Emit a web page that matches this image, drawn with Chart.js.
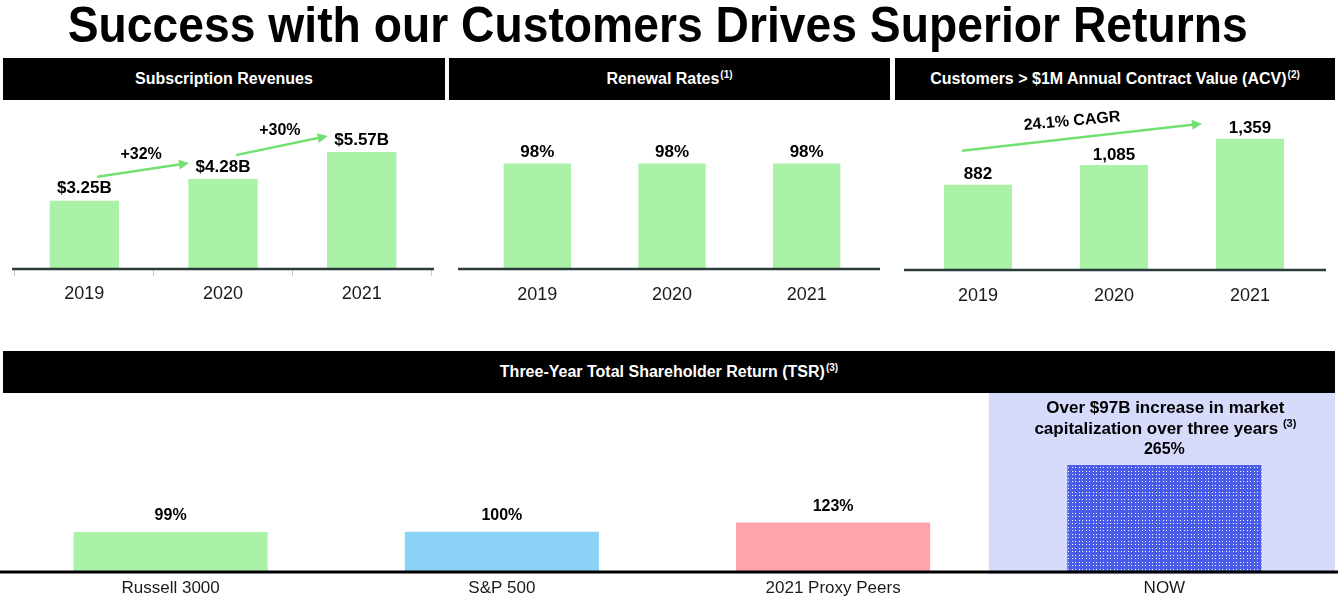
<!DOCTYPE html>
<html>
<head>
<meta charset="utf-8">
<script src="https://cdn.jsdelivr.net/npm/chart.js@4/dist/chart.umd.min.js"></script>
<style>
  body { margin:0; width:1338px; height:601px; background:#fff; position:relative; overflow:hidden;
         font-family:"Liberation Sans", Arial, sans-serif; }
  #title { position:absolute; left:0; top:0; width:1316px; text-align:center; font-weight:bold;
           font-size:50px; line-height:50px; color:#000; white-space:nowrap; }
  #title span { display:inline-block; transform-origin:center; }
  .hdr { position:absolute; background:#000; color:#fff; font-weight:bold; font-size:16px;
         display:flex; align-items:center; justify-content:center; white-space:nowrap; }
  .hdr sup { font-size:10px; vertical-align:6px; line-height:0; margin-left:1px; }
  canvas { position:absolute; }
</style>
</head>
<body>
<div id="title"><span id="titleText">Success with our Customers Drives Superior Returns</span></div>

<div class="hdr" style="left:3px;top:58px;width:442px;height:42px;"><span>Subscription Revenues</span></div>
<div class="hdr" style="left:449px;top:58px;width:441px;height:42px;"><span>Renewal Rates<sup>(1)</sup></span></div>
<div class="hdr" style="left:895px;top:58px;width:440px;height:42px;"><span>Customers &gt; $1M Annual Contract Value (ACV)<sup>(2)</sup></span></div>
<div class="hdr" style="left:3px;top:351px;width:1332px;height:42px;"><span>Three-Year Total Shareholder Return (TSR)<sup>(3)</sup></span></div>

<canvas id="c1" width="440" height="220" style="left:3px;top:100px;"></canvas>
<canvas id="c2" width="440" height="220" style="left:449px;top:100px;"></canvas>
<canvas id="c3" width="440" height="220" style="left:895px;top:100px;"></canvas>
<canvas id="c4" width="1338" height="208" style="left:0px;top:393px;"></canvas>

<script>
// ---------------- data ----------------
const years = ['2019', '2020', '2021'];
const subscriptionRevenue = [3.25, 4.28, 5.57];      // $B
const revenueGrowth = ['+32%', '+30%'];
const renewalRates = [98, 98, 98];                   // %
const millionCustomers = [882, 1085, 1359];
const customersCagr = '24.1% CAGR';
const tsrGroups = ['Russell 3000', 'S&P 500', '2021 Proxy Peers', 'NOW'];
const tsrValues = [99, 100, 123, 265];               // %
const nowNote = ['Over $97B increase in market', 'capitalization over three years'];
const nowNoteRef = '(3)';

// ---------------- styling ----------------
const FONT = '"Liberation Sans", Arial, sans-serif';
const GREEN = '#a9f2a8';
const ARROW = '#72e070';
const AXIS = '#2b3a3a';

// title fit
(function () {
  const s = document.getElementById('titleText');
  const w = s.getBoundingClientRect().width;
  s.style.transform = 'scaleX(' + (1180 / w) + ')';
})();

function drawArrow(ctx, x1, y1, x2, y2, color, lw, head) {
  const a = Math.atan2(y2 - y1, x2 - x1);
  const bx = x2 - head * Math.cos(a), by = y2 - head * Math.sin(a);
  ctx.save();
  ctx.strokeStyle = color; ctx.fillStyle = color; ctx.lineWidth = lw;
  ctx.beginPath(); ctx.moveTo(x1, y1); ctx.lineTo(bx, by); ctx.stroke();
  ctx.beginPath(); ctx.moveTo(x2, y2);
  ctx.lineTo(bx + head * 0.5 * Math.sin(a), by - head * 0.5 * Math.cos(a));
  ctx.lineTo(bx - head * 0.5 * Math.sin(a), by + head * 0.5 * Math.cos(a));
  ctx.closePath(); ctx.fill();
  ctx.restore();
}

function valueLabelPlugin(fmt, size, gap) {
  return {
    id: 'valueLabels',
    afterDatasetsDraw(chart) {
      const ctx = chart.ctx, meta = chart.getDatasetMeta(0), d = chart.data.datasets[0].data;
      ctx.save();
      ctx.font = 'bold ' + size + 'px ' + FONT;
      ctx.fillStyle = '#000'; ctx.textAlign = 'center'; ctx.textBaseline = 'middle';
      meta.data.forEach((bar, i) => ctx.fillText(fmt(d[i]), bar.x, bar.y - gap));
      ctx.restore();
    }
  };
}

function axisLinePlugin(extL, extR, color, width, full) {
  return {
    id: 'axisLine',
    afterDatasetsDraw(chart) {
      const ctx = chart.ctx, a = chart.chartArea;
      ctx.save();
      ctx.strokeStyle = color; ctx.lineWidth = width;
      ctx.beginPath();
      const x0 = full ? 0 : a.left - extL, x1 = full ? chart.width : a.right + extR;
      ctx.moveTo(x0, a.bottom); ctx.lineTo(x1, a.bottom); ctx.stroke();
      ctx.restore();
    }
  };
}

function barChart(id, cfg) {
  return new Chart(document.getElementById(id), {
    type: 'bar',
    data: {
      labels: cfg.labels,
      datasets: [{ data: cfg.values, backgroundColor: cfg.colors, borderWidth: 0,
                   barPercentage: cfg.barPct, categoryPercentage: 1 }]
    },
    options: {
      responsive: false, animation: false, devicePixelRatio: 1,
      layout: { padding: cfg.padding },
      plugins: { legend: { display: false }, tooltip: { enabled: false }, title: { display: false } },
      scales: {
        x: {
          afterFit: s => { s.height = cfg.axisH; },
          border: { display: false },
          grid: cfg.grid,
          ticks: { color: '#1a1a1a', font: { family: FONT, size: cfg.tickSize }, padding: cfg.tickPad,
                   maxRotation: 0, autoSkip: false }
        },
        y: { display: false, min: 0, max: cfg.max }
      }
    },
    plugins: cfg.plugins
  });
}

// ---------- Chart 1: Subscription Revenues ----------
barChart('c1', {
  labels: years, values: subscriptionRevenue, colors: GREEN, barPct: 0.5, max: 7,
  padding: { left: 12, right: 12, top: 22, bottom: 0 }, axisH: 51, tickSize: 18, tickPad: 7,
  grid: { display: true, drawOnChartArea: false, drawTicks: true, tickLength: 7, color: '#c8c8c8', lineWidth: 1 },
  plugins: [
    valueLabelPlugin(v => '$' + v.toFixed(2) + 'B', 17, 12),
    axisLinePlugin(3, 3, AXIS, 2.5, false),
    {
      id: 'growth',
      afterDatasetsDraw(chart) {
        const ctx = chart.ctx, bars = chart.getDatasetMeta(0).data;
        for (let i = 0; i < bars.length - 1; i++) {
          const b0 = bars[i], b1 = bars[i + 1];
          const x1 = b0.x + 13, y1 = b0.y - 24, x2 = b1.x - 34, y2 = b1.y - 16;
          drawArrow(ctx, x1, y1, x2, y2, ARROW, 2.5, 10);
          ctx.save();
          ctx.font = 'bold 16px ' + FONT; ctx.fillStyle = '#000';
          ctx.textAlign = 'center'; ctx.textBaseline = 'middle';
          ctx.fillText(revenueGrowth[i], (x1 + x2) / 2 - 2, (y1 + y2) / 2 - 15);
          ctx.restore();
        }
      }
    }
  ]
});

// ---------- Chart 2: Renewal Rates ----------
barChart('c2', {
  labels: years, values: renewalRates, colors: GREEN, barPct: 0.5, max: 130,
  padding: { left: 21, right: 15, top: 29, bottom: 0 }, axisH: 51, tickSize: 18, tickPad: 15,
  grid: { display: false, drawTicks: false },
  plugins: [
    valueLabelPlugin(v => v + '%', 17, 11),
    axisLinePlugin(12, 6, AXIS, 2.5, false)
  ]
});

// ---------- Chart 3: Customers > $1M ACV ----------
barChart('c3', {
  labels: years, values: millionCustomers, colors: GREEN, barPct: 0.5, max: 1500,
  padding: { left: 15, right: 17, top: 25, bottom: 0 }, axisH: 50, tickSize: 18, tickPad: 15,
  grid: { display: false, drawTicks: false },
  plugins: [
    valueLabelPlugin(v => v.toLocaleString('en-US'), 17, 10),
    axisLinePlugin(6, 8, AXIS, 2.5, false),
    {
      id: 'cagr',
      afterDatasetsDraw(chart) {
        const ctx = chart.ctx, bars = chart.getDatasetMeta(0).data;
        const b0 = bars[0], b2 = bars[bars.length - 1];
        const x1 = b0.x - 16, y1 = b0.y - 34, x2 = b2.x - 48, y2 = b2.y - 15;
        drawArrow(ctx, x1, y1, x2, y2, ARROW, 2.5, 10);
        const ang = Math.atan2(y2 - y1, x2 - x1) * 0.8;
        ctx.save();
        ctx.translate((x1 + x2) / 2 - 10, (y1 + y2) / 2 - 16);
        ctx.rotate(ang);
        ctx.font = 'bold 16px ' + FONT; ctx.fillStyle = '#000';
        ctx.textAlign = 'center'; ctx.textBaseline = 'middle';
        ctx.fillText(customersCagr, 0, 0);
        ctx.restore();
      }
    }
  ]
});

// ---------- Chart 4: Three-Year TSR ----------
const pat = document.createElement('canvas');
pat.width = 7; pat.height = 7;
(function () {
  const p = pat.getContext('2d');
  p.fillStyle = '#4a5de8'; p.fillRect(0, 0, 7, 7);
  p.fillStyle = '#ffffff';
  [[1, 1], [4, 1], [1, 4], [4, 4]].forEach(([x, y]) => p.fillRect(x, y, 1, 1));
})();
const nowPattern = document.getElementById('c4').getContext('2d').createPattern(pat, 'repeat');

barChart('c4', {
  labels: tsrGroups, values: tsrValues, colors: ['#a9f2a8', '#8ad3f7', '#ffa3ad', nowPattern],
  barPct: 0.586, max: 300,
  padding: { left: 5, right: 8, top: 58, bottom: 0 }, axisH: 29, tickSize: 17, tickPad: 6,
  grid: { display: false, drawTicks: false },
  plugins: [
    {
      id: 'nowBox',
      beforeDatasetsDraw(chart) {
        const ctx = chart.ctx, a = chart.chartArea, bars = chart.getDatasetMeta(0).data;
        const last = bars[bars.length - 1];
        const cw = (a.right - a.left) / bars.length;
        ctx.save();
        ctx.fillStyle = '#d6dafb';
        ctx.fillRect(last.x - cw * 0.53, 0, chart.width - 3 - (last.x - cw * 0.53), a.bottom + 2);
        ctx.restore();
      }
    },
    valueLabelPlugin(v => v + '%', 16, 16),
    axisLinePlugin(0, 0, '#000', 3, true),
    {
      id: 'nowNote',
      afterDatasetsDraw(chart) {
        const ctx = chart.ctx, bars = chart.getDatasetMeta(0).data;
        const cx = bars[bars.length - 1].x + 1;
        ctx.save();
        ctx.fillStyle = '#000'; ctx.textBaseline = 'middle';
        ctx.font = 'bold 17px ' + FONT;
        ctx.textAlign = 'center';
        ctx.fillText(nowNote[0], cx, 15);
        const main = nowNote[1] + ' ';
        const wMain = ctx.measureText(main).width;
        ctx.font = 'bold 11px ' + FONT;
        const wRef = ctx.measureText(nowNoteRef).width;
        const x0 = cx - (wMain + wRef) / 2;
        ctx.textAlign = 'left';
        ctx.font = 'bold 17px ' + FONT;
        ctx.fillText(main, x0, 36);
        ctx.font = 'bold 11px ' + FONT;
        ctx.fillText(nowNoteRef, x0 + wMain, 31);
        ctx.restore();
      }
    }
  ]
});
</script>
</body>
</html>
